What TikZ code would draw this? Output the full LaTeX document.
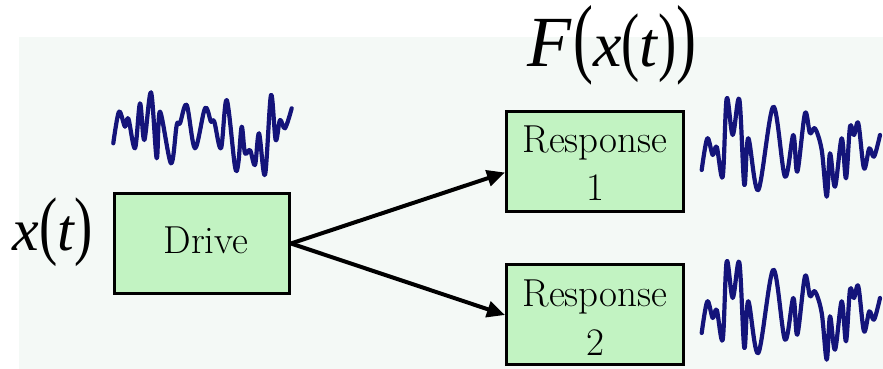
\documentclass[tikz,border=0pt]{standalone}
\usepackage{fontspec}
\usepackage{graphicx}
\usetikzlibrary{arrows.meta,calc}
\newfontfamily\tms{Liberation Serif}
\definecolor{panelc}{HTML}{F4F9F6}
\definecolor{boxc}{HTML}{C2F3C2}
\definecolor{wavec}{HTML}{14147A}
\newcommand\pa[2]{\scalebox{#2}[1]{\fontsize{#1}{#1}\selectfont\tms\upshape (}}
\newcommand\pb[2]{\scalebox{#2}[1]{\fontsize{#1}{#1}\selectfont\tms\upshape )}}
\begin{document}
\begin{tikzpicture}[x=0.5pt,y=-0.5pt,
  box/.style={draw=black,line width=1.5pt,fill=boxc,inner sep=0pt},
  lbl/.style={anchor=base,inner sep=0pt,font=\fontsize{19.5}{19.5}\selectfont},
  math/.style={anchor=base west,inner sep=0pt},
  conn/.style={line width=2pt,-{Triangle[length=9pt,width=8pt]}},
  wave/.style={draw=wavec,line width=2.1pt,line join=round,line cap=round}]
\useasboundingbox (0,0) rectangle (883,369);
\fill[panelc] (19,37) rectangle (883,369);
% boxes
\node[box,minimum width=87.5pt,minimum height=50pt] (drive) at (202,243.5) {};
\node[box,minimum width=88.5pt,minimum height=50pt] (r1) at (595,161.5) {};
\node[box,minimum width=88.5pt,minimum height=50pt] (r2) at (595,314.5) {};
\node[lbl] (dt) at (206,253) {Drive};
\node[lbl] (r1a) at (595,153) {Response};
\node[lbl] (r1b) at (595,200) {1};
\node[lbl] (r2a) at (595,306) {Response};
\node[lbl] (r2b) at (595,355) {2};
% connectors
\coordinate (t1) at ($(r1.west)+(0,11)$);
\coordinate (t2) at ($(r2.west)+(0,0.5)$);
\draw[conn] (drive.east) -- (t1);
\draw[conn] (drive.east) -- (t2);
% labels
\node[math] (xt) at (12,250) {\tms\fontsize{30}{30}\selectfont\itshape x\pa{38}{0.72}t\kern0.5pt\pb{38}{0.72}};
\node[math] (fxt) at (527,67) {\tms\fontsize{32}{32}\selectfont\itshape{\fontsize{36}{36}\selectfont F}\kern1pt\pa{44}{0.68}x\pa{38}{0.72}t\kern0.5pt\pb{38}{0.72}\pb{44}{0.68}};
% waves
\draw[wave] plot[smooth,tension=0.55] coordinates {(113.3,143.3) (119,111.7) (125,126.7) (128.3,118.3) (135,148.3) (140,103.3) (144.3,140) (151,92.3) (156.7,158.3) (160,111.7) (171,163.3) (176.7,125) (180,123.3) (186.7,105) (195,148.3) (205,108.3) (211,121.7) (214.3,121.7) (221,148.3) (226.7,100) (235,166.7) (238.3,163.3) (241.7,126.7) (245,153.3) (250,150) (255,165) (259,133.3) (265,175) (271,95) (275.7,140) (280,120) (285,128.3) (291.7,108.3)};
\foreach \dy in {0,163}{
\draw[wave,yshift=-\dy*0.5pt] plot[smooth,tension=0.55] coordinates {(701.7,170) (707.3,138.3) (712.7,155) (716.7,146.7) (722.7,176.7) (726.7,98.3) (732.7,135) (739.3,99.3) (744.3,185) (748.3,138.3) (758.3,190) (773.3,106.7) (785,176.7) (793.3,135) (797.3,171.7) (805,113.3) (810,133.3) (815,128.3) (821.7,150) (826.7,196.7) (830,153.3) (835,186.7) (841.7,138.3) (846,178.3) (850,126.7) (854,135) (858.3,123.3) (864,168.3) (869.3,148.3) (874,156.7) (880,135)};
}
\end{tikzpicture}
\end{document}
